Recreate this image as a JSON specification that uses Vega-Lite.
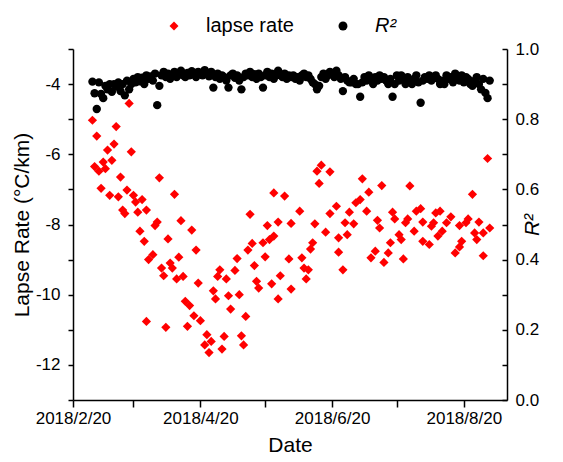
{
  "$schema": "https://vega.github.io/schema/vega-lite/v6.json",
  "width": 434,
  "height": 351,
  "autosize": {"type": "none"},
  "padding": {"left": 73, "top": 49, "right": 56, "bottom": 62},
  "background": "white",
  "config": {
    "view": {"stroke": null},
    "font": "Liberation Sans",
    "axis": {
      "grid": false,
      "domainColor": "#000000",
      "tickColor": "#000000",
      "labelColor": "#000000",
      "titleColor": "#000000",
      "labelFont": "Liberation Sans",
      "titleFont": "Liberation Sans",
      "titleFontWeight": "normal",
      "labelFontSize": 17,
      "titleFontSize": 21,
      "domainWidth": 1.5,
      "tickWidth": 1.5
    },
    "legend": {
      "orient": "none",
      "direction": "horizontal",
      "padding": 0,
      "labelFont": "Liberation Sans",
      "labelFontSize": 20,
      "labelColor": "#000000",
      "symbolSize": 80,
      "labelOffset": 22,
      "symbolStrokeWidth": 0
    }
  },
  "datasets": {
    "lapse": [
      {"date": "2018-03-01", "series": "lapse rate", "value": -5.03},
      {"date": "2018-03-02", "series": "lapse rate", "value": -6.35},
      {"date": "2018-03-03", "series": "lapse rate", "value": -5.48},
      {"date": "2018-03-04", "series": "lapse rate", "value": -6.48},
      {"date": "2018-03-05", "series": "lapse rate", "value": -6.97},
      {"date": "2018-03-06", "series": "lapse rate", "value": -6.22},
      {"date": "2018-03-07", "series": "lapse rate", "value": -6.41},
      {"date": "2018-03-08", "series": "lapse rate", "value": -5.88},
      {"date": "2018-03-09", "series": "lapse rate", "value": -7.17},
      {"date": "2018-03-10", "series": "lapse rate", "value": -6.17},
      {"date": "2018-03-11", "series": "lapse rate", "value": -5.71},
      {"date": "2018-03-12", "series": "lapse rate", "value": -5.21},
      {"date": "2018-03-13", "series": "lapse rate", "value": -7.21},
      {"date": "2018-03-14", "series": "lapse rate", "value": -6.65},
      {"date": "2018-03-15", "series": "lapse rate", "value": -7.59},
      {"date": "2018-03-16", "series": "lapse rate", "value": -7.69},
      {"date": "2018-03-17", "series": "lapse rate", "value": -7.02},
      {"date": "2018-03-18", "series": "lapse rate", "value": -4.55},
      {"date": "2018-03-19", "series": "lapse rate", "value": -5.93},
      {"date": "2018-03-20", "series": "lapse rate", "value": -7.17},
      {"date": "2018-03-21", "series": "lapse rate", "value": -7.36},
      {"date": "2018-03-22", "series": "lapse rate", "value": -7.65},
      {"date": "2018-03-23", "series": "lapse rate", "value": -8.19},
      {"date": "2018-03-24", "series": "lapse rate", "value": -7.29},
      {"date": "2018-03-25", "series": "lapse rate", "value": -8.48},
      {"date": "2018-03-26", "series": "lapse rate", "value": -7.59},
      {"date": "2018-03-26", "series": "lapse rate", "value": -10.76},
      {"date": "2018-03-27", "series": "lapse rate", "value": -9.0},
      {"date": "2018-03-29", "series": "lapse rate", "value": -8.86},
      {"date": "2018-03-30", "series": "lapse rate", "value": -8.03},
      {"date": "2018-03-31", "series": "lapse rate", "value": -7.93},
      {"date": "2018-04-01", "series": "lapse rate", "value": -6.67},
      {"date": "2018-04-02", "series": "lapse rate", "value": -9.24},
      {"date": "2018-04-03", "series": "lapse rate", "value": -9.46},
      {"date": "2018-04-04", "series": "lapse rate", "value": -10.93},
      {"date": "2018-04-05", "series": "lapse rate", "value": -8.41},
      {"date": "2018-04-06", "series": "lapse rate", "value": -9.1},
      {"date": "2018-04-07", "series": "lapse rate", "value": -9.24},
      {"date": "2018-04-08", "series": "lapse rate", "value": -7.14},
      {"date": "2018-04-09", "series": "lapse rate", "value": -9.55},
      {"date": "2018-04-10", "series": "lapse rate", "value": -8.93},
      {"date": "2018-04-11", "series": "lapse rate", "value": -7.89},
      {"date": "2018-04-12", "series": "lapse rate", "value": -9.48},
      {"date": "2018-04-13", "series": "lapse rate", "value": -10.19},
      {"date": "2018-04-14", "series": "lapse rate", "value": -10.9},
      {"date": "2018-04-15", "series": "lapse rate", "value": -10.31},
      {"date": "2018-04-16", "series": "lapse rate", "value": -8.16},
      {"date": "2018-04-17", "series": "lapse rate", "value": -10.6},
      {"date": "2018-04-18", "series": "lapse rate", "value": -8.73},
      {"date": "2018-04-19", "series": "lapse rate", "value": -9.67},
      {"date": "2018-04-20", "series": "lapse rate", "value": -10.74},
      {"date": "2018-04-22", "series": "lapse rate", "value": -11.43},
      {"date": "2018-04-23", "series": "lapse rate", "value": -11.14},
      {"date": "2018-04-24", "series": "lapse rate", "value": -11.65},
      {"date": "2018-04-25", "series": "lapse rate", "value": -11.33},
      {"date": "2018-04-26", "series": "lapse rate", "value": -9.89},
      {"date": "2018-04-27", "series": "lapse rate", "value": -10.12},
      {"date": "2018-04-28", "series": "lapse rate", "value": -9.48},
      {"date": "2018-04-29", "series": "lapse rate", "value": -9.29},
      {"date": "2018-04-30", "series": "lapse rate", "value": -11.55},
      {"date": "2018-05-01", "series": "lapse rate", "value": -11.19},
      {"date": "2018-05-02", "series": "lapse rate", "value": -9.55},
      {"date": "2018-05-03", "series": "lapse rate", "value": -10.03},
      {"date": "2018-05-04", "series": "lapse rate", "value": -10.41},
      {"date": "2018-05-06", "series": "lapse rate", "value": -9.31},
      {"date": "2018-05-07", "series": "lapse rate", "value": -8.97},
      {"date": "2018-05-08", "series": "lapse rate", "value": -10.0},
      {"date": "2018-05-09", "series": "lapse rate", "value": -11.17},
      {"date": "2018-05-10", "series": "lapse rate", "value": -11.43},
      {"date": "2018-05-11", "series": "lapse rate", "value": -10.62},
      {"date": "2018-05-12", "series": "lapse rate", "value": -8.73},
      {"date": "2018-05-13", "series": "lapse rate", "value": -7.71},
      {"date": "2018-05-14", "series": "lapse rate", "value": -8.54},
      {"date": "2018-05-15", "series": "lapse rate", "value": -9.17},
      {"date": "2018-05-16", "series": "lapse rate", "value": -9.62},
      {"date": "2018-05-17", "series": "lapse rate", "value": -9.81},
      {"date": "2018-05-19", "series": "lapse rate", "value": -8.52},
      {"date": "2018-05-20", "series": "lapse rate", "value": -8.92},
      {"date": "2018-05-21", "series": "lapse rate", "value": -8.03},
      {"date": "2018-05-22", "series": "lapse rate", "value": -8.43},
      {"date": "2018-05-23", "series": "lapse rate", "value": -9.69},
      {"date": "2018-05-24", "series": "lapse rate", "value": -7.1},
      {"date": "2018-05-24", "series": "lapse rate", "value": -8.33},
      {"date": "2018-05-26", "series": "lapse rate", "value": -7.93},
      {"date": "2018-05-26", "series": "lapse rate", "value": -10.12},
      {"date": "2018-05-27", "series": "lapse rate", "value": -9.46},
      {"date": "2018-05-29", "series": "lapse rate", "value": -7.19},
      {"date": "2018-05-31", "series": "lapse rate", "value": -8.98},
      {"date": "2018-06-01", "series": "lapse rate", "value": -7.97},
      {"date": "2018-06-01", "series": "lapse rate", "value": -9.84},
      {"date": "2018-06-05", "series": "lapse rate", "value": -7.62},
      {"date": "2018-06-06", "series": "lapse rate", "value": -8.95},
      {"date": "2018-06-07", "series": "lapse rate", "value": -9.24},
      {"date": "2018-06-08", "series": "lapse rate", "value": -9.55},
      {"date": "2018-06-09", "series": "lapse rate", "value": -9.29},
      {"date": "2018-06-10", "series": "lapse rate", "value": -8.7},
      {"date": "2018-06-11", "series": "lapse rate", "value": -8.52},
      {"date": "2018-06-12", "series": "lapse rate", "value": -7.98},
      {"date": "2018-06-13", "series": "lapse rate", "value": -6.48},
      {"date": "2018-06-14", "series": "lapse rate", "value": -6.83},
      {"date": "2018-06-15", "series": "lapse rate", "value": -6.31},
      {"date": "2018-06-17", "series": "lapse rate", "value": -8.22},
      {"date": "2018-06-19", "series": "lapse rate", "value": -6.5},
      {"date": "2018-06-19", "series": "lapse rate", "value": -7.69},
      {"date": "2018-06-22", "series": "lapse rate", "value": -7.48},
      {"date": "2018-06-23", "series": "lapse rate", "value": -8.38},
      {"date": "2018-06-23", "series": "lapse rate", "value": -8.79},
      {"date": "2018-06-25", "series": "lapse rate", "value": -9.29},
      {"date": "2018-06-26", "series": "lapse rate", "value": -7.95},
      {"date": "2018-06-27", "series": "lapse rate", "value": -8.29},
      {"date": "2018-06-28", "series": "lapse rate", "value": -7.65},
      {"date": "2018-06-30", "series": "lapse rate", "value": -7.98},
      {"date": "2018-07-01", "series": "lapse rate", "value": -7.38},
      {"date": "2018-07-03", "series": "lapse rate", "value": -7.29},
      {"date": "2018-07-04", "series": "lapse rate", "value": -6.7},
      {"date": "2018-07-06", "series": "lapse rate", "value": -7.62},
      {"date": "2018-07-07", "series": "lapse rate", "value": -7.08},
      {"date": "2018-07-08", "series": "lapse rate", "value": -8.95},
      {"date": "2018-07-10", "series": "lapse rate", "value": -8.76},
      {"date": "2018-07-11", "series": "lapse rate", "value": -7.88},
      {"date": "2018-07-12", "series": "lapse rate", "value": -8.1},
      {"date": "2018-07-13", "series": "lapse rate", "value": -6.89},
      {"date": "2018-07-14", "series": "lapse rate", "value": -9.08},
      {"date": "2018-07-16", "series": "lapse rate", "value": -8.81},
      {"date": "2018-07-17", "series": "lapse rate", "value": -8.52},
      {"date": "2018-07-18", "series": "lapse rate", "value": -7.65},
      {"date": "2018-07-19", "series": "lapse rate", "value": -7.84},
      {"date": "2018-07-21", "series": "lapse rate", "value": -8.29},
      {"date": "2018-07-22", "series": "lapse rate", "value": -8.43},
      {"date": "2018-07-23", "series": "lapse rate", "value": -8.98},
      {"date": "2018-07-24", "series": "lapse rate", "value": -7.95},
      {"date": "2018-07-25", "series": "lapse rate", "value": -7.84},
      {"date": "2018-07-26", "series": "lapse rate", "value": -6.9},
      {"date": "2018-07-28", "series": "lapse rate", "value": -8.19},
      {"date": "2018-07-29", "series": "lapse rate", "value": -7.62},
      {"date": "2018-07-31", "series": "lapse rate", "value": -7.55},
      {"date": "2018-08-01", "series": "lapse rate", "value": -7.93},
      {"date": "2018-08-01", "series": "lapse rate", "value": -8.48},
      {"date": "2018-08-04", "series": "lapse rate", "value": -8.57},
      {"date": "2018-08-05", "series": "lapse rate", "value": -8.05},
      {"date": "2018-08-06", "series": "lapse rate", "value": -7.95},
      {"date": "2018-08-07", "series": "lapse rate", "value": -7.67},
      {"date": "2018-08-08", "series": "lapse rate", "value": -8.33},
      {"date": "2018-08-09", "series": "lapse rate", "value": -7.62},
      {"date": "2018-08-10", "series": "lapse rate", "value": -8.19},
      {"date": "2018-08-12", "series": "lapse rate", "value": -7.95},
      {"date": "2018-08-14", "series": "lapse rate", "value": -7.78},
      {"date": "2018-08-16", "series": "lapse rate", "value": -8.81},
      {"date": "2018-08-18", "series": "lapse rate", "value": -8.03},
      {"date": "2018-08-18", "series": "lapse rate", "value": -8.64},
      {"date": "2018-08-19", "series": "lapse rate", "value": -8.48},
      {"date": "2018-08-21", "series": "lapse rate", "value": -7.95},
      {"date": "2018-08-22", "series": "lapse rate", "value": -7.84},
      {"date": "2018-08-24", "series": "lapse rate", "value": -7.14},
      {"date": "2018-08-25", "series": "lapse rate", "value": -8.24},
      {"date": "2018-08-26", "series": "lapse rate", "value": -8.43},
      {"date": "2018-08-27", "series": "lapse rate", "value": -7.93},
      {"date": "2018-08-29", "series": "lapse rate", "value": -8.24},
      {"date": "2018-08-29", "series": "lapse rate", "value": -8.89},
      {"date": "2018-08-31", "series": "lapse rate", "value": -6.12},
      {"date": "2018-09-01", "series": "lapse rate", "value": -8.1}
    ],
    "r2": [
      {"date": "2018-03-01", "series": "R²", "value": 0.907},
      {"date": "2018-03-02", "series": "R²", "value": 0.874},
      {"date": "2018-03-03", "series": "R²", "value": 0.829},
      {"date": "2018-03-04", "series": "R²", "value": 0.905},
      {"date": "2018-03-05", "series": "R²", "value": 0.872},
      {"date": "2018-03-06", "series": "R²", "value": 0.86},
      {"date": "2018-03-07", "series": "R²", "value": 0.895},
      {"date": "2018-03-08", "series": "R²", "value": 0.885},
      {"date": "2018-03-09", "series": "R²", "value": 0.9},
      {"date": "2018-03-10", "series": "R²", "value": 0.878},
      {"date": "2018-03-11", "series": "R²", "value": 0.9},
      {"date": "2018-03-12", "series": "R²", "value": 0.893},
      {"date": "2018-03-13", "series": "R²", "value": 0.905},
      {"date": "2018-03-14", "series": "R²", "value": 0.88},
      {"date": "2018-03-15", "series": "R²", "value": 0.9},
      {"date": "2018-03-16", "series": "R²", "value": 0.868},
      {"date": "2018-03-17", "series": "R²", "value": 0.91},
      {"date": "2018-03-18", "series": "R²", "value": 0.885},
      {"date": "2018-03-19", "series": "R²", "value": 0.9},
      {"date": "2018-03-20", "series": "R²", "value": 0.915},
      {"date": "2018-03-21", "series": "R²", "value": 0.905},
      {"date": "2018-03-22", "series": "R²", "value": 0.92},
      {"date": "2018-03-23", "series": "R²", "value": 0.908},
      {"date": "2018-03-24", "series": "R²", "value": 0.918},
      {"date": "2018-03-25", "series": "R²", "value": 0.9},
      {"date": "2018-03-26", "series": "R²", "value": 0.925},
      {"date": "2018-03-27", "series": "R²", "value": 0.915},
      {"date": "2018-03-28", "series": "R²", "value": 0.922},
      {"date": "2018-03-29", "series": "R²", "value": 0.91},
      {"date": "2018-03-30", "series": "R²", "value": 0.93},
      {"date": "2018-03-31", "series": "R²", "value": 0.84},
      {"date": "2018-04-01", "series": "R²", "value": 0.895},
      {"date": "2018-04-02", "series": "R²", "value": 0.925},
      {"date": "2018-04-03", "series": "R²", "value": 0.935},
      {"date": "2018-04-04", "series": "R²", "value": 0.92},
      {"date": "2018-04-05", "series": "R²", "value": 0.93},
      {"date": "2018-04-06", "series": "R²", "value": 0.915},
      {"date": "2018-04-07", "series": "R²", "value": 0.925},
      {"date": "2018-04-08", "series": "R²", "value": 0.935},
      {"date": "2018-04-09", "series": "R²", "value": 0.92},
      {"date": "2018-04-10", "series": "R²", "value": 0.93},
      {"date": "2018-04-11", "series": "R²", "value": 0.938},
      {"date": "2018-04-12", "series": "R²", "value": 0.925},
      {"date": "2018-04-13", "series": "R²", "value": 0.92},
      {"date": "2018-04-14", "series": "R²", "value": 0.932},
      {"date": "2018-04-15", "series": "R²", "value": 0.925},
      {"date": "2018-04-16", "series": "R²", "value": 0.937},
      {"date": "2018-04-17", "series": "R²", "value": 0.928},
      {"date": "2018-04-18", "series": "R²", "value": 0.92},
      {"date": "2018-04-19", "series": "R²", "value": 0.935},
      {"date": "2018-04-20", "series": "R²", "value": 0.93},
      {"date": "2018-04-21", "series": "R²", "value": 0.925},
      {"date": "2018-04-22", "series": "R²", "value": 0.94},
      {"date": "2018-04-23", "series": "R²", "value": 0.93},
      {"date": "2018-04-24", "series": "R²", "value": 0.922},
      {"date": "2018-04-25", "series": "R²", "value": 0.935},
      {"date": "2018-04-26", "series": "R²", "value": 0.89},
      {"date": "2018-04-27", "series": "R²", "value": 0.92},
      {"date": "2018-04-28", "series": "R²", "value": 0.93},
      {"date": "2018-04-29", "series": "R²", "value": 0.915},
      {"date": "2018-04-30", "series": "R²", "value": 0.925},
      {"date": "2018-05-01", "series": "R²", "value": 0.92},
      {"date": "2018-05-02", "series": "R²", "value": 0.91},
      {"date": "2018-05-03", "series": "R²", "value": 0.89},
      {"date": "2018-05-04", "series": "R²", "value": 0.925},
      {"date": "2018-05-05", "series": "R²", "value": 0.93},
      {"date": "2018-05-06", "series": "R²", "value": 0.918},
      {"date": "2018-05-07", "series": "R²", "value": 0.925},
      {"date": "2018-05-08", "series": "R²", "value": 0.91},
      {"date": "2018-05-09", "series": "R²", "value": 0.885},
      {"date": "2018-05-10", "series": "R²", "value": 0.92},
      {"date": "2018-05-11", "series": "R²", "value": 0.93},
      {"date": "2018-05-12", "series": "R²", "value": 0.925},
      {"date": "2018-05-13", "series": "R²", "value": 0.935},
      {"date": "2018-05-14", "series": "R²", "value": 0.92},
      {"date": "2018-05-15", "series": "R²", "value": 0.928},
      {"date": "2018-05-16", "series": "R²", "value": 0.915},
      {"date": "2018-05-17", "series": "R²", "value": 0.93},
      {"date": "2018-05-18", "series": "R²", "value": 0.92},
      {"date": "2018-05-19", "series": "R²", "value": 0.89},
      {"date": "2018-05-20", "series": "R²", "value": 0.925},
      {"date": "2018-05-21", "series": "R²", "value": 0.935},
      {"date": "2018-05-22", "series": "R²", "value": 0.92},
      {"date": "2018-05-23", "series": "R²", "value": 0.93},
      {"date": "2018-05-24", "series": "R²", "value": 0.915},
      {"date": "2018-05-25", "series": "R²", "value": 0.925},
      {"date": "2018-05-26", "series": "R²", "value": 0.938},
      {"date": "2018-05-27", "series": "R²", "value": 0.925},
      {"date": "2018-05-28", "series": "R²", "value": 0.92},
      {"date": "2018-05-29", "series": "R²", "value": 0.93},
      {"date": "2018-05-30", "series": "R²", "value": 0.915},
      {"date": "2018-05-31", "series": "R²", "value": 0.925},
      {"date": "2018-06-01", "series": "R²", "value": 0.92},
      {"date": "2018-06-02", "series": "R²", "value": 0.925},
      {"date": "2018-06-03", "series": "R²", "value": 0.915},
      {"date": "2018-06-04", "series": "R²", "value": 0.92},
      {"date": "2018-06-05", "series": "R²", "value": 0.91},
      {"date": "2018-06-06", "series": "R²", "value": 0.925},
      {"date": "2018-06-07", "series": "R²", "value": 0.93},
      {"date": "2018-06-08", "series": "R²", "value": 0.92},
      {"date": "2018-06-09", "series": "R²", "value": 0.925},
      {"date": "2018-06-10", "series": "R²", "value": 0.915},
      {"date": "2018-06-11", "series": "R²", "value": 0.905},
      {"date": "2018-06-12", "series": "R²", "value": 0.9},
      {"date": "2018-06-13", "series": "R²", "value": 0.885},
      {"date": "2018-06-14", "series": "R²", "value": 0.895},
      {"date": "2018-06-15", "series": "R²", "value": 0.92},
      {"date": "2018-06-16", "series": "R²", "value": 0.93},
      {"date": "2018-06-17", "series": "R²", "value": 0.915},
      {"date": "2018-06-18", "series": "R²", "value": 0.925},
      {"date": "2018-06-19", "series": "R²", "value": 0.935},
      {"date": "2018-06-20", "series": "R²", "value": 0.93},
      {"date": "2018-06-21", "series": "R²", "value": 0.92},
      {"date": "2018-06-22", "series": "R²", "value": 0.938},
      {"date": "2018-06-23", "series": "R²", "value": 0.925},
      {"date": "2018-06-24", "series": "R²", "value": 0.915},
      {"date": "2018-06-25", "series": "R²", "value": 0.88},
      {"date": "2018-06-26", "series": "R²", "value": 0.92},
      {"date": "2018-06-27", "series": "R²", "value": 0.91},
      {"date": "2018-06-28", "series": "R²", "value": 0.905},
      {"date": "2018-06-29", "series": "R²", "value": 0.905},
      {"date": "2018-06-30", "series": "R²", "value": 0.915},
      {"date": "2018-07-01", "series": "R²", "value": 0.9},
      {"date": "2018-07-02", "series": "R²", "value": 0.9},
      {"date": "2018-07-03", "series": "R²", "value": 0.864},
      {"date": "2018-07-04", "series": "R²", "value": 0.905},
      {"date": "2018-07-05", "series": "R²", "value": 0.92},
      {"date": "2018-07-06", "series": "R²", "value": 0.91},
      {"date": "2018-07-07", "series": "R²", "value": 0.925},
      {"date": "2018-07-08", "series": "R²", "value": 0.915},
      {"date": "2018-07-09", "series": "R²", "value": 0.9},
      {"date": "2018-07-10", "series": "R²", "value": 0.92},
      {"date": "2018-07-11", "series": "R²", "value": 0.91},
      {"date": "2018-07-12", "series": "R²", "value": 0.925},
      {"date": "2018-07-13", "series": "R²", "value": 0.915},
      {"date": "2018-07-14", "series": "R²", "value": 0.92},
      {"date": "2018-07-15", "series": "R²", "value": 0.91},
      {"date": "2018-07-16", "series": "R²", "value": 0.9},
      {"date": "2018-07-17", "series": "R²", "value": 0.915},
      {"date": "2018-07-18", "series": "R²", "value": 0.864},
      {"date": "2018-07-19", "series": "R²", "value": 0.9},
      {"date": "2018-07-20", "series": "R²", "value": 0.925},
      {"date": "2018-07-21", "series": "R²", "value": 0.91},
      {"date": "2018-07-22", "series": "R²", "value": 0.925},
      {"date": "2018-07-23", "series": "R²", "value": 0.915},
      {"date": "2018-07-24", "series": "R²", "value": 0.9},
      {"date": "2018-07-25", "series": "R²", "value": 0.92},
      {"date": "2018-07-26", "series": "R²", "value": 0.91},
      {"date": "2018-07-27", "series": "R²", "value": 0.9},
      {"date": "2018-07-28", "series": "R²", "value": 0.915},
      {"date": "2018-07-29", "series": "R²", "value": 0.925},
      {"date": "2018-07-30", "series": "R²", "value": 0.905},
      {"date": "2018-07-31", "series": "R²", "value": 0.847},
      {"date": "2018-08-01", "series": "R²", "value": 0.91},
      {"date": "2018-08-02", "series": "R²", "value": 0.92},
      {"date": "2018-08-03", "series": "R²", "value": 0.915},
      {"date": "2018-08-04", "series": "R²", "value": 0.925},
      {"date": "2018-08-05", "series": "R²", "value": 0.91},
      {"date": "2018-08-06", "series": "R²", "value": 0.92},
      {"date": "2018-08-07", "series": "R²", "value": 0.925},
      {"date": "2018-08-08", "series": "R²", "value": 0.915},
      {"date": "2018-08-09", "series": "R²", "value": 0.9},
      {"date": "2018-08-10", "series": "R²", "value": 0.91},
      {"date": "2018-08-11", "series": "R²", "value": 0.9},
      {"date": "2018-08-12", "series": "R²", "value": 0.925},
      {"date": "2018-08-13", "series": "R²", "value": 0.915},
      {"date": "2018-08-14", "series": "R²", "value": 0.92},
      {"date": "2018-08-15", "series": "R²", "value": 0.905},
      {"date": "2018-08-16", "series": "R²", "value": 0.93},
      {"date": "2018-08-17", "series": "R²", "value": 0.92},
      {"date": "2018-08-18", "series": "R²", "value": 0.91},
      {"date": "2018-08-19", "series": "R²", "value": 0.925},
      {"date": "2018-08-20", "series": "R²", "value": 0.905},
      {"date": "2018-08-21", "series": "R²", "value": 0.92},
      {"date": "2018-08-22", "series": "R²", "value": 0.915},
      {"date": "2018-08-23", "series": "R²", "value": 0.9},
      {"date": "2018-08-24", "series": "R²", "value": 0.895},
      {"date": "2018-08-25", "series": "R²", "value": 0.91},
      {"date": "2018-08-26", "series": "R²", "value": 0.92},
      {"date": "2018-08-27", "series": "R²", "value": 0.9},
      {"date": "2018-08-28", "series": "R²", "value": 0.885},
      {"date": "2018-08-29", "series": "R²", "value": 0.915},
      {"date": "2018-08-30", "series": "R²", "value": 0.875},
      {"date": "2018-08-31", "series": "R²", "value": 0.86},
      {"date": "2018-09-01", "series": "R²", "value": 0.91}
    ]
  },
  "layer": [
    {
      "data": {"name": "lapse"},
      "mark": {"type": "point", "shape": "diamond", "filled": true, "opacity": 1, "size": 85, "strokeWidth": 0},
      "encoding": {
        "x": {
          "field": "date", "type": "temporal",
          "scale": {"type": "utc", "domain": [{"year": 2018, "month": 2, "date": 20, "utc": true}, {"year": 2018, "month": 9, "date": 9, "utc": true}]},
          "axis": {
            "title": "Date",
            "values": [
              {"year": 2018, "month": 2, "date": 20, "utc": true},
              {"year": 2018, "month": 3, "date": 20, "utc": true},
              {"year": 2018, "month": 4, "date": 20, "utc": true},
              {"year": 2018, "month": 5, "date": 20, "utc": true},
              {"year": 2018, "month": 6, "date": 20, "utc": true},
              {"year": 2018, "month": 7, "date": 20, "utc": true},
              {"year": 2018, "month": 8, "date": 20, "utc": true}
            ],
            "labelExpr": "utcmonth(datum.value) % 2 == 1 ? utcFormat(datum.value, '%Y/%-m/%-d') : ''",
            "tickSize": 7,
            "labelPadding": 3,
            "titlePadding": 8,
            "labelFlush": false,
            "labelOverlap": false,
            "encode": {"ticks": {"update": {"y2": {"signal": "utcmonth(datum.value) % 2 == 1 ? 7 : 4"}}}}
          }
        },
        "y": {
          "field": "value", "type": "quantitative",
          "scale": {"domain": [-13, -3], "nice": false, "zero": false},
          "axis": {
            "title": "Lapse Rate (°C/km)",
            "orient": "left",
            "values": [-13, -12, -11, -10, -9, -8, -7, -6, -5, -4, -3],
            "labelExpr": "datum.value % 2 == 0 ? '' + datum.value : ''",
            "tickSize": 5,
            "labelPadding": 8,
            "titlePadding": 3,
            "labelFlush": false,
            "labelOverlap": false
          }
        },
        "color": {
          "field": "series", "type": "nominal",
          "scale": {"domain": ["lapse rate"], "range": ["#ff0000"]},
          "legend": {"title": null, "symbolType": "diamond", "legendX": 91, "legendY": -33}
        }
      }
    },
    {
      "data": {"name": "r2"},
      "mark": {"type": "point", "shape": "circle", "filled": true, "opacity": 1, "size": 70, "strokeWidth": 0},
      "encoding": {
        "x": {
          "field": "date", "type": "temporal",
          "scale": {"type": "utc", "domain": [{"year": 2018, "month": 2, "date": 20, "utc": true}, {"year": 2018, "month": 9, "date": 9, "utc": true}]}
        },
        "y": {
          "field": "value", "type": "quantitative",
          "scale": {"domain": [0, 1], "nice": false, "zero": false},
          "axis": {
            "title": "R²",
            "titleFontStyle": "italic",
            "titleAngle": 270,
            "orient": "right",
            "values": [0, 0.1, 0.2, 0.3, 0.4, 0.5, 0.6, 0.7, 0.8, 0.9, 1],
            "labelExpr": "round(datum.value * 10) % 2 == 0 ? format(datum.value, '.1f') : ''",
            "tickSize": -5,
            "labelPadding": 13,
            "titlePadding": 4,
            "labelFlush": false,
            "labelOverlap": false
          }
        },
        "fill": {
          "field": "series", "type": "nominal",
          "scale": {"domain": ["R²"], "range": ["#000000"]},
          "legend": {"title": null, "symbolType": "circle", "labelFontStyle": "italic", "legendX": 260, "legendY": -33}
        }
      }
    }
  ],
  "resolve": {"scale": {"y": "independent"}}
}
